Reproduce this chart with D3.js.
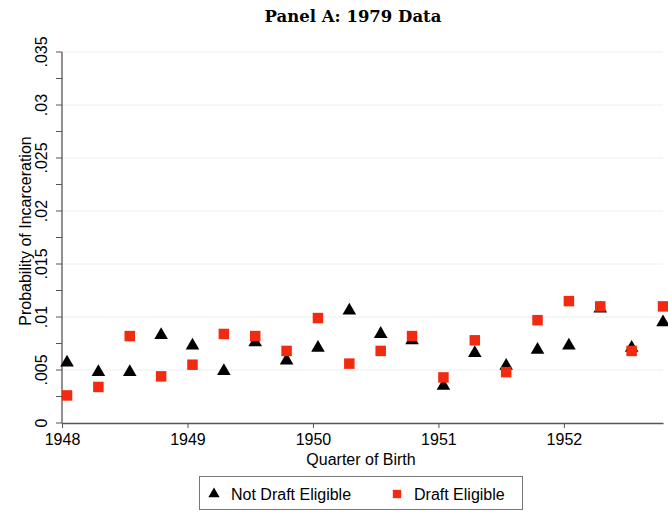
<!DOCTYPE html>
<html>
<head>
<meta charset="utf-8">
<script src="https://cdn.jsdelivr.net/npm/d3@7"></script>
<style>
  body { margin: 0; background: #fff; }
  svg { display: block; }
</style>
</head>
<body>
<div id="chart"></div>
<script>
// quarters of birth, 1948Q1 .. 1952Q4
var years = [1948, 1949, 1950, 1951, 1952];
var quarters = [1, 2, 3, 4];

// probability of incarceration
var notDraftEligible = [0.0057, 0.0048, 0.0048, 0.0083, 0.0073, 0.0049, 0.0076, 0.0059, 0.0071, 0.0106,
                        0.0084, 0.0078, 0.0035, 0.0066, 0.0054, 0.0069, 0.0073, 0.0108, 0.0071, 0.0095];
var draftEligible    = [0.0026, 0.0034, 0.0082, 0.0044, 0.0055, 0.0084, 0.0082, 0.0068, 0.0099, 0.0056,
                        0.0068, 0.0082, 0.0043, 0.0078, 0.0048, 0.0097, 0.0115, 0.0110, 0.0068, 0.0110];

var yTicks = [0, 0.005, 0.01, 0.015, 0.02, 0.025, 0.03, 0.035];
var yTickLabels = ["0", ".005", ".01", ".015", ".02", ".025", ".03", ".035"];
var xTicks = [1948, 1949, 1950, 1951, 1952];

var width = 668, height = 515;
var margin = { top: 52, right: 5, bottom: 92, left: 62 };
var sans = "'Liberation Sans', Arial, sans-serif";

// x position of each quarter (marker sits slightly past the quarter start)
var qPos = [];
years.forEach(function (y) {
    quarters.forEach(function (q) { qPos.push(y + (q - 1) / 4 + 0.04); });
});

var svg = d3.select("#chart").append("svg")
    .attr("width", width)
    .attr("height", height);

var x = d3.scaleLinear().domain([1948, 1952.79]).range([margin.left, width - margin.right]);
var y = d3.scaleLinear().domain([0, 0.035]).range([height - margin.bottom, margin.top]);

// title
svg.append("text")
    .attr("x", 353)
    .attr("y", 22)
    .attr("text-anchor", "middle")
    .style("font-family", "'DejaVu Serif', serif")
    .style("font-weight", "bold")
    .style("font-size", "16.5px")
    .text("Panel A: 1979 Data");

// faint gridlines
svg.append("g").selectAll("line")
    .data(yTicks.slice(1))
    .enter().append("line")
    .attr("x1", x(1948)).attr("x2", width - margin.right)
    .attr("y1", d => y(d)).attr("y2", d => y(d))
    .attr("stroke", "#eeeeee")
    .attr("stroke-width", 1);

// y axis
var minor = d3.range(0, 0.0351, 0.0025);
var yAxis = svg.append("g")
    .attr("transform", "translate(" + margin.left + ",0)");
yAxis.append("line")
    .attr("y1", y(0)).attr("y2", y(0.035))
    .attr("stroke", "#555").attr("stroke-width", 1.3);
yAxis.selectAll(".tk").data(minor).enter().append("line")
    .attr("x1", 0).attr("x2", -6)
    .attr("y1", d => y(d)).attr("y2", d => y(d))
    .attr("stroke", "#555").attr("stroke-width", 1);
yAxis.selectAll(".lbl").data(yTicks).enter().append("text")
    .attr("transform", d => "translate(-15," + y(d) + ") rotate(-90)")
    .attr("text-anchor", "middle")
    .style("font-family", sans)
    .style("font-size", "16px")
    .text((d, i) => yTickLabels[i]);

svg.append("text")
    .attr("transform", "translate(31,231) rotate(-90)")
    .attr("text-anchor", "middle")
    .style("font-family", sans)
    .style("font-size", "16px")
    .text("Probability of Incarceration");

// x axis
var xAxis = d3.axisBottom(x).tickValues(xTicks).tickFormat(d3.format("d")).tickSize(5).tickSizeOuter(0);
var gx = svg.append("g")
    .attr("transform", "translate(0," + y(0) + ")")
    .call(xAxis);
gx.select(".domain").attr("stroke", "#555").attr("stroke-width", 1.3);
gx.selectAll(".tick line").attr("stroke", "#555");
gx.selectAll(".tick text")
    .attr("y", 22)
    .attr("dy", 0)
    .style("font-family", sans)
    .style("font-size", "16px")
    .style("fill", "#000");

svg.append("text")
    .attr("x", 361)
    .attr("y", 465)
    .attr("text-anchor", "middle")
    .style("font-family", sans)
    .style("font-size", "16px")
    .text("Quarter of Birth");

// markers
var tri = d3.symbol().type(d3.symbolTriangle).size(80);
var sq = d3.symbol().type(d3.symbolSquare).size(110);

svg.append("g").selectAll("path")
    .data(notDraftEligible)
    .enter().append("path")
    .attr("d", tri)
    .attr("transform", (d, i) => "translate(" + x(qPos[i]) + "," + y(d) + ")")
    .attr("fill", "#000");

svg.append("g").selectAll("path")
    .data(draftEligible)
    .enter().append("path")
    .attr("d", sq)
    .attr("transform", (d, i) => "translate(" + x(qPos[i]) + "," + y(d) + ")")
    .attr("fill", "#f22a10");

// legend
var lg = svg.append("g");
lg.append("rect")
    .attr("x", 199.5).attr("y", 476.5)
    .attr("width", 323).attr("height", 33)
    .attr("fill", "#fff").attr("stroke", "#777").attr("stroke-width", 1);
lg.append("path").attr("d", d3.symbol().type(d3.symbolTriangle).size(55))
    .attr("transform", "translate(214,494)").attr("fill", "#000");
lg.append("text").attr("x", 231).attr("y", 500)
    .style("font-family", sans)
    .style("font-size", "16px")
    .text("Not Draft Eligible");
lg.append("path").attr("d", d3.symbol().type(d3.symbolSquare).size(70))
    .attr("transform", "translate(397,494)").attr("fill", "#f22a10");
lg.append("text").attr("x", 414).attr("y", 500)
    .style("font-family", sans)
    .style("font-size", "16px")
    .text("Draft Eligible");
</script>
</body>
</html>
